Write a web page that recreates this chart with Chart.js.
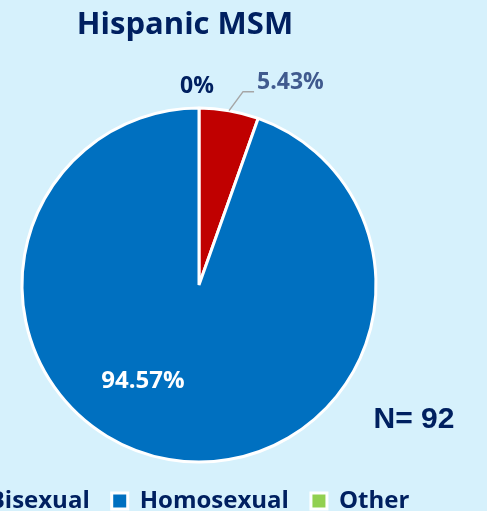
<!DOCTYPE html>
<html>
<head>
<meta charset="utf-8">
<script src="https://cdn.jsdelivr.net/npm/chart.js@4"></script>
<style>
  html, body { margin:0; padding:0; width:487px; height:511px; overflow:hidden; background:#D6F1FC; }
  #wrap { position:absolute; left:-115px; top:0; width:600px; height:523px; }
  #n { position:absolute; left:414px; top:418px; transform:translate(-50%,-50%); font-family:"Liberation Sans", Arial, sans-serif; font-weight:bold; font-size:30px; color:#002060; white-space:nowrap; }
</style>
</head>
<body>
<div id="wrap"><canvas id="c"></canvas></div>
<div id="n">N= 92</div>
<script>
const categories = ['Bisexual', 'Homosexual', 'Other'];
const percentages = [5.43, 94.57, 0];
const valueLabels = ['5.43%', '94.57%', '0%'];
const sliceColors = ['#C00000', '#0070C0', '#92D050'];

const navy = '#002060';
const FONT = '"Open Sans", "DejaVu Sans", sans-serif';

const labelPlugin = {
  id: 'sliceLabels',
  afterDatasetUpdate(chart, args) {
    args.meta.data.forEach(el => { el.x += 14; });
  },
  afterDatasetsDraw(chart) {
    const ctx = chart.ctx;
    const meta = chart.getDatasetMeta(0);
    meta.data.forEach((arc, i) => {
      const p = arc.getProps(['x','y','startAngle','endAngle','outerRadius'], true);
      const R = p.outerRadius;
      ctx.save();
      ctx.textBaseline = 'middle';
      if (i === 0) {
        const m = (p.startAngle + p.endAngle) / 2;
        const x0 = p.x + R * Math.cos(m), y0 = p.y + R * Math.sin(m);
        const x1 = x0 + 14, y1 = y0 - 19, x2 = x1 + 11;
        ctx.strokeStyle = '#A6A6A6';
        ctx.lineWidth = 1.5;
        ctx.beginPath(); ctx.moveTo(x0, y0); ctx.lineTo(x1, y1); ctx.lineTo(x2, y1); ctx.stroke();
        ctx.font = 'bold 23px ' + FONT;
        ctx.fillStyle = '#405A8E';
        ctx.textAlign = 'left';
        ctx.fillText(valueLabels[i], x2 + 3, y1 - 9);
      } else if (i === 1) {
        const a = p.startAngle + 0.56 * (p.endAngle - p.startAngle);
        ctx.font = 'bold 24px ' + FONT;
        ctx.fillStyle = '#FFFFFF';
        ctx.textAlign = 'center';
        ctx.fillText(valueLabels[i], p.x + 0.63 * R * Math.cos(a), p.y + 0.63 * R * Math.sin(a));
      } else {
        const m = (p.startAngle + p.endAngle) / 2;
        ctx.font = 'bold 23px ' + FONT;
        ctx.fillStyle = navy;
        ctx.textAlign = 'center';
        ctx.fillText(valueLabels[i], p.x + 1.12 * R * Math.cos(m) - 2, p.y + 1.12 * R * Math.sin(m));
      }
      ctx.restore();
    });
  }
};

new Chart(document.getElementById('c'), {
  type: 'pie',
  data: {
    labels: categories,
    datasets: [{
      data: percentages,
      backgroundColor: sliceColors,
      borderColor: '#FFFFFF',
      borderWidth: 3
    }]
  },
  options: {
    responsive: true,
    maintainAspectRatio: false,
    animation: false,
    radius: 177,
    layout: { padding: 0 },
    plugins: {
      title: {
        display: true,
        text: 'Hispanic MSM',
        color: navy,
        font: { family: FONT, size: 31, weight: 'bold' },
        padding: { top: 7, bottom: 59 }
      },
      legend: {
        position: 'bottom',
        labels: {
          color: navy,
          font: { family: FONT, size: 24, weight: 'bold' },
          boxWidth: 16,
          boxHeight: 16,
          padding: 22
        }
      },
      tooltip: { enabled: false }
    }
  },
  plugins: [labelPlugin]
});
</script>
</body>
</html>
